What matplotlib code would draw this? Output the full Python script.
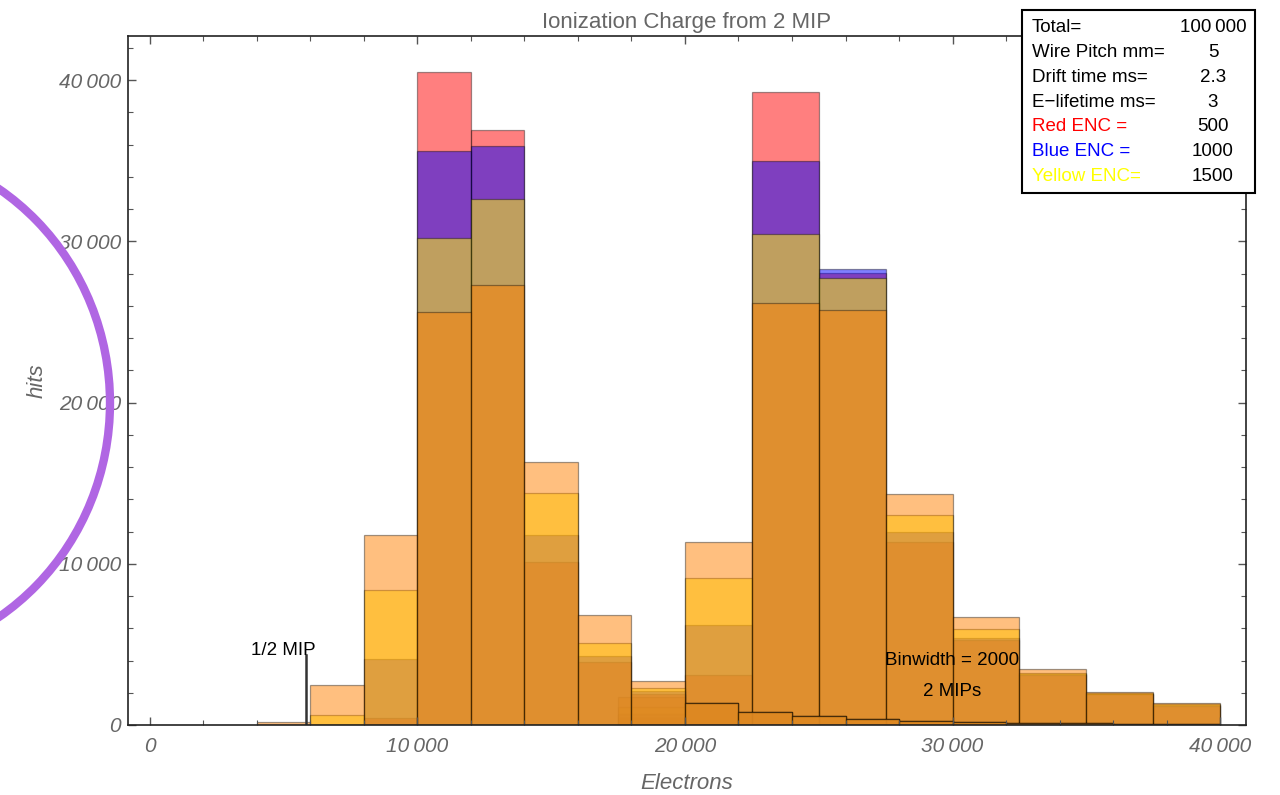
import matplotlib
matplotlib.use("Agg")
import matplotlib.pyplot as plt
from matplotlib.patches import Ellipse, Rectangle
from matplotlib.ticker import MultipleLocator, FuncFormatter

plt.rcParams['font.family'] = ['Liberation Sans', 'DejaVu Sans']

# first hump: 2000 e- bins from 4000 to 40000
edges_1 = [4000, 6000, 8000, 10000, 12000, 14000, 16000, 18000, 20000, 22000,
           24000, 26000, 28000, 30000, 32000, 34000, 36000, 38000, 40000]
tail_1 = [1360, 820, 560, 390, 270, 190, 150, 110, 80, 60]
red_1 = [0, 0, 450, 40500, 36900, 10100, 3900, 1900] + tail_1
blue_1 = [0, 0, 4100, 35600, 35900, 11800, 4300, 2100] + tail_1
yellow_1 = [0, 600, 8400, 30200, 32600, 14400, 5100, 2300] + tail_1
orange_1 = [200, 2500, 11800, 25600, 27300, 16300, 6800, 2700] + tail_1

# second hump: 2500 e- bins from 17500 to 40000
edges_2 = [17500, 20000, 22500, 25000, 27500, 30000, 32500, 35000, 37500, 40000]
red_2 = [430, 3100, 39250, 28050, 11350, 5250, 3100, 1900, 1180]
blue_2 = [700, 6200, 34950, 28250, 12000, 5400, 3150, 1940, 1230]
yellow_2 = [1100, 9100, 30450, 27700, 13000, 5950, 3200, 1980, 1280]
orange_2 = [1740, 11350, 26150, 25750, 14350, 6700, 3450, 2050, 1350]

half_mip = 5850
half_mip_height = 4350

info_labels = ["Total=", "Wire Pitch mm=", "Drift time ms=", "E\u2212lifetime ms=",
               "Red ENC =", "Blue ENC =", "Yellow ENC="]
info_values = ["100\u2009000", "5", "2.3", "3", "500", "1000", "1500"]
info_colors = ["black", "black", "black", "black", "#ff0000", "#0000ff", "#ffff00"]

colors = {"red": (1, 0, 0, 0.5), "blue": (0, 0, 1, 0.5),
          "yellow": (1, 1, 0, 0.5), "orange": (1, 0.5, 0, 0.5)}
edge = (0, 0, 0, 0.38)

fig = plt.figure(figsize=(12.8, 7.95), dpi=100)
W, H = 1280, 795
ax = fig.add_axes([128 / W, 1 - 725 / H, (1246 - 128) / W, (725 - 36) / H])


def hist(edges, heights, c):
    lefts = edges[:-1]
    widths = [b - a for a, b in zip(edges[:-1], edges[1:])]
    ax.bar(lefts, heights, width=widths, align='edge', color=colors[c],
           edgecolor=edge, linewidth=0.9)


# 2 MIP hump goes underneath the 1 MIP set
for c, h in [("red", red_2), ("blue", blue_2), ("yellow", yellow_2), ("orange", orange_2)]:
    hist(edges_2, h, c)
for c, h in [("red", red_1), ("blue", blue_1), ("yellow", yellow_1), ("orange", orange_1)]:
    hist(edges_1, h, c)

ax.plot([half_mip, half_mip], [0, half_mip_height], color='#333333', lw=1.8)
ax.text(5000, 4590, "1/2 MIP", ha='center', va='center',
        fontsize=13.5, color='black')
ax.text(30000, 3970, "Binwidth = 2000", ha='center', va='center', fontsize=13.5)
ax.text(30000, 2050, "2 MIPs", ha='center', va='center', fontsize=13.5)

ax.set_xlim(-820, 40970)
ax.set_ylim(0, 42730)

gray = '#666666'
ax.xaxis.set_major_locator(MultipleLocator(10000))
ax.xaxis.set_minor_locator(MultipleLocator(2000))
ax.yaxis.set_major_locator(MultipleLocator(10000))
ax.yaxis.set_minor_locator(MultipleLocator(2000))
fmt = FuncFormatter(lambda v, p: "0" if v == 0 else f"{int(v) // 1000}\u2009000")
ax.xaxis.set_major_formatter(fmt)
ax.yaxis.set_major_formatter(fmt)
ax.tick_params(which='both', direction='in', top=True, right=True, color='#555555')
ax.tick_params(which='major', length=6, width=1.0, labelsize=15, labelcolor=gray)
ax.tick_params(which='minor', length=3.5, width=0.8)
ax.tick_params(axis='x', which='major', pad=9)
ax.tick_params(axis='y', which='major', pad=5)
for lab in ax.get_xticklabels() + ax.get_yticklabels():
    lab.set_fontstyle('italic')
for s in ax.spines.values():
    s.set_linewidth(1.2)
    s.set_color('#222222')

ax.set_title("Ionization Charge from 2 MIP", fontsize=16, color=gray, pad=6)
ax.set_xlabel("Electrons", fontsize=16, color=gray, style='italic', labelpad=12)
ax.set_ylabel("hits", fontsize=16, color=gray, style='italic', labelpad=8)

# parameter box
fig.add_artist(Rectangle((1022 / W, 1 - 193 / H), 233 / W, 183 / H,
                         transform=fig.transFigure, facecolor='white',
                         edgecolor='black', lw=1.5, zorder=10))
for i, (lab, val, col) in enumerate(zip(info_labels, info_values, info_colors)):
    y = 1 - (28 + i * 24.7) / H
    fig.text(1032 / W, y, lab, ha='left', va='center', fontsize=13.5, color=col, zorder=11)
    fig.text(1213 / W, y, val, ha='center', va='center', fontsize=13.5, color='black', zorder=11)

# hand-drawn circle around the axis label
fig.add_artist(Ellipse((-140 / W, 1 - 403 / H), 500 / W, 515 / H,
                       transform=fig.transFigure, fill=False,
                       edgecolor='#b066e3', lw=6, zorder=12))

fig.savefig("out.png", dpi=100)
